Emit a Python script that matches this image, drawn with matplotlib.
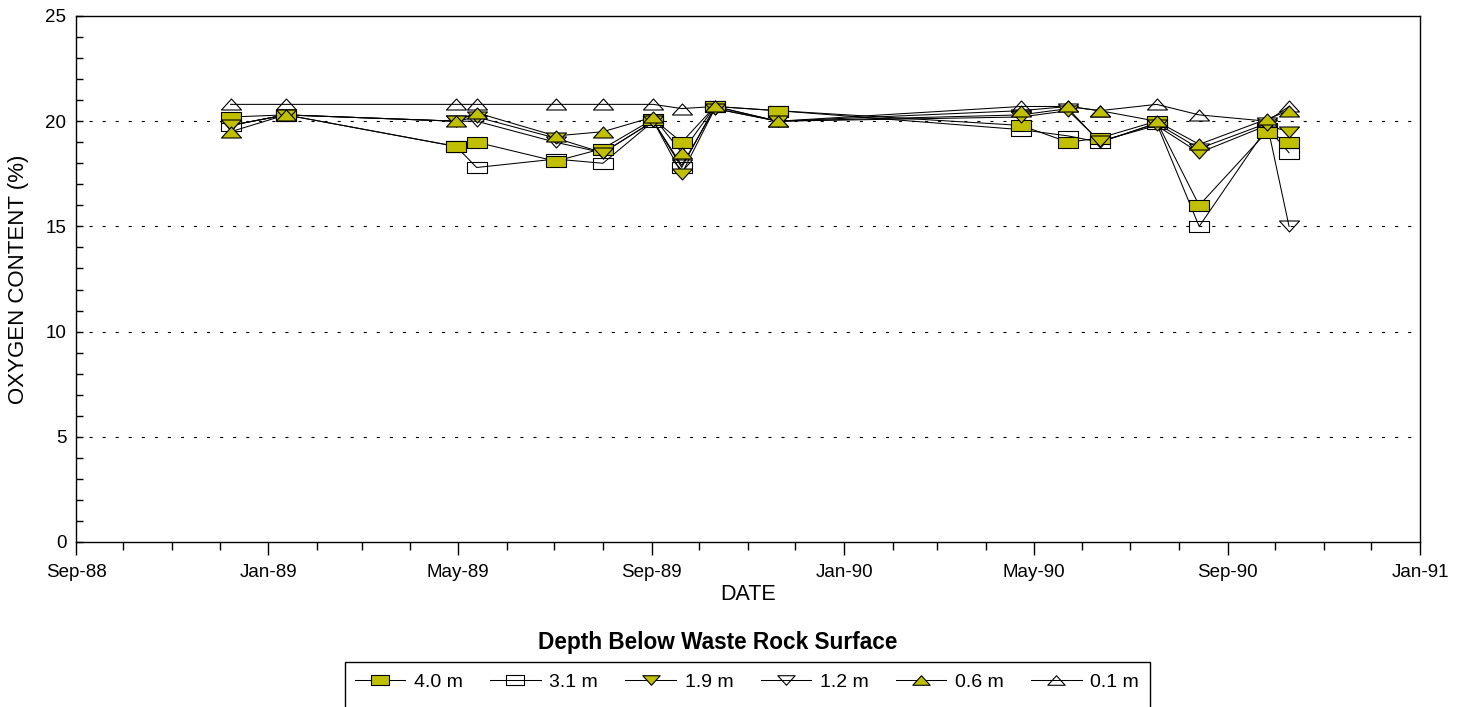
import matplotlib
matplotlib.use('Agg')
import matplotlib.pyplot as plt
import matplotlib.dates as mdates
from matplotlib.path import Path
from matplotlib.lines import Line2D
from matplotlib.patches import Rectangle
from datetime import datetime

# ---------------- data ----------------
sample_dates = ['1988-12-08', '1989-01-12', '1989-04-30', '1989-05-13', '1989-07-02',
                '1989-08-01', '1989-09-02', '1989-09-20', '1989-10-11', '1989-11-20',
                '1990-04-23', '1990-05-23', '1990-06-12', '1990-07-18', '1990-08-14',
                '1990-09-26', '1990-10-10']

o2_4_0m = [20.2, 20.3, 18.8, 19.0, 18.1, 18.7, 20.1, 19.0, 20.7, 20.5,
           19.8, 19.0, 19.2, 20.0, 16.0, 19.5, 19.0]
o2_3_1m = [19.8, 20.3, 18.8, 17.8, 18.2, 18.0, 20.0, 17.8, 20.7, 20.5,
           19.6, 19.3, 19.0, 19.9, 15.0, 19.7, 18.5]
o2_1_9m = [19.8, 20.3, 20.0, 20.2, 19.2, 18.5, 20.0, 17.5, 20.6, 20.0,
           20.2, 20.5, 19.05, 19.8, 18.5, 19.8, 19.5]
o2_1_2m = [19.8, 20.3, 20.0, 20.0, 19.0, 18.5, 20.0, 17.9, 20.6, 20.0,
           20.3, 20.6, 19.0, 19.9, 18.7, 19.9, 15.0]
o2_0_6m = [19.5, 20.3, 20.0, 20.4, 19.3, 19.5, 20.2, 18.5, 20.7, 20.0,
           20.5, 20.7, 20.5, 20.0, 18.9, 20.1, 20.5]
o2_0_1m = [20.8, 20.8, 20.8, 20.8, 20.8, 20.8, 20.8, 20.6, 20.7, 20.0,
           20.7, 20.7, 20.5, 20.8, 20.3, 20.0, 20.7]

depth_labels = ['4.0 m', '3.1 m', '1.9 m', '1.2 m', '0.6 m', '0.1 m']
series = [o2_4_0m, o2_3_1m, o2_1_9m, o2_1_2m, o2_0_6m, o2_0_1m]

x_tick_labels_fmt = '%b-%y'
y_ticks = [0, 5, 10, 15, 20, 25]

# ---------------- styles ----------------
OLIVE = '#C0C000'
H = 0.55
rect_m = Path([(-1, -H), (1, -H), (1, H), (-1, H), (-1, -H)],
              [Path.MOVETO, Path.LINETO, Path.LINETO, Path.LINETO, Path.CLOSEPOLY])
tri_up = Path([(-1, -H), (1, -H), (0, H), (-1, -H)],
              [Path.MOVETO, Path.LINETO, Path.LINETO, Path.CLOSEPOLY])
tri_dn = Path([(-1, H), (1, H), (0, -H), (-1, H)],
              [Path.MOVETO, Path.LINETO, Path.LINETO, Path.CLOSEPOLY])
markers = [rect_m, rect_m, tri_dn, tri_dn, tri_up, tri_up]
faces = [OLIVE, 'none', OLIVE, 'none', OLIVE, 'none']

plt.rcParams['font.family'] = ['Liberation Sans', 'DejaVu Sans']

W, Hpx = 1462, 707
fig = plt.figure(figsize=(W / 100, Hpx / 100), dpi=100)
L, R, T, B = 76, 1420, 16, 542
ax = fig.add_axes([L / W, 1 - B / Hpx, (R - L) / W, (B - T) / Hpx])

dts = [datetime.strptime(d, '%Y-%m-%d') for d in sample_dates]

for vals, mk, fc in zip(series, markers, faces):
    z = 4 if fc != 'none' else 3
    ax.plot(dts, vals, color='black', lw=0.75, zorder=2)
    ax.plot(dts, vals, ls='none', marker=mk, markersize=14.4, markerfacecolor=fc,
            markeredgecolor='black', markeredgewidth=0.8, zorder=z)

ax.set_xlim(datetime(1988, 9, 1), datetime(1991, 1, 1))
ax.set_ylim(0, 25)
ax.xaxis.set_major_locator(mdates.MonthLocator(bymonth=[1, 5, 9]))
ax.xaxis.set_major_formatter(mdates.DateFormatter(x_tick_labels_fmt))
ax.xaxis.set_minor_locator(mdates.MonthLocator())
ax.set_yticks(y_ticks)
ax.yaxis.set_minor_locator(matplotlib.ticker.MultipleLocator(1))

ax.tick_params(axis='x', which='major', direction='out', length=9, width=1, labelsize=13.5, pad=7)
ax.tick_params(axis='x', which='minor', direction='out', length=6, width=1)
ax.tick_params(axis='y', which='major', direction='in', length=5, width=1, labelsize=13.5, pad=7)
ax.tick_params(axis='y', which='minor', direction='in', length=5, width=1)

for v in [5, 10, 15, 20]:
    ax.axhline(v, color='black', lw=0.8, ls=(0, (2.75, 9)), zorder=1)

for s in ax.spines.values():
    s.set_linewidth(1)

ax.set_xlabel('DATE', fontsize=15.5, va='center')
ax.xaxis.set_label_coords(0.5, (542 - 594) / (B - T))
ax.set_ylabel('OXYGEN CONTENT (%)', fontsize=16, va='center')
ax.yaxis.set_label_coords((19 - L) / (R - L), 0.5)

# legend
fig.text(718 / W, 1 - 642 / Hpx, 'Depth Below Waste Rock Surface', ha='center', va='center',
         fontsize=16.3, fontweight='bold')
fig.patches.append(Rectangle((345 / W, 1 - 730 / Hpx), (1150 - 345) / W, (730 - 662) / Hpx,
                             transform=fig.transFigure, fill=False, edgecolor='black',
                             lw=1, clip_on=False))
handles = [Line2D([], [], color='black', lw=0.75, marker=mk, markersize=12.5,
                  markerfacecolor=fc, markeredgecolor='black', markeredgewidth=0.8)
           for mk, fc in zip(markers, faces)]
fig.legend(handles, depth_labels, loc='center', bbox_to_anchor=(747 / W, 1 - 682 / Hpx),
           ncol=6, frameon=False, handlelength=2.6, handletextpad=0.45,
           columnspacing=1.4, prop={'size': 14})

fig.savefig('out.png', dpi=100)
